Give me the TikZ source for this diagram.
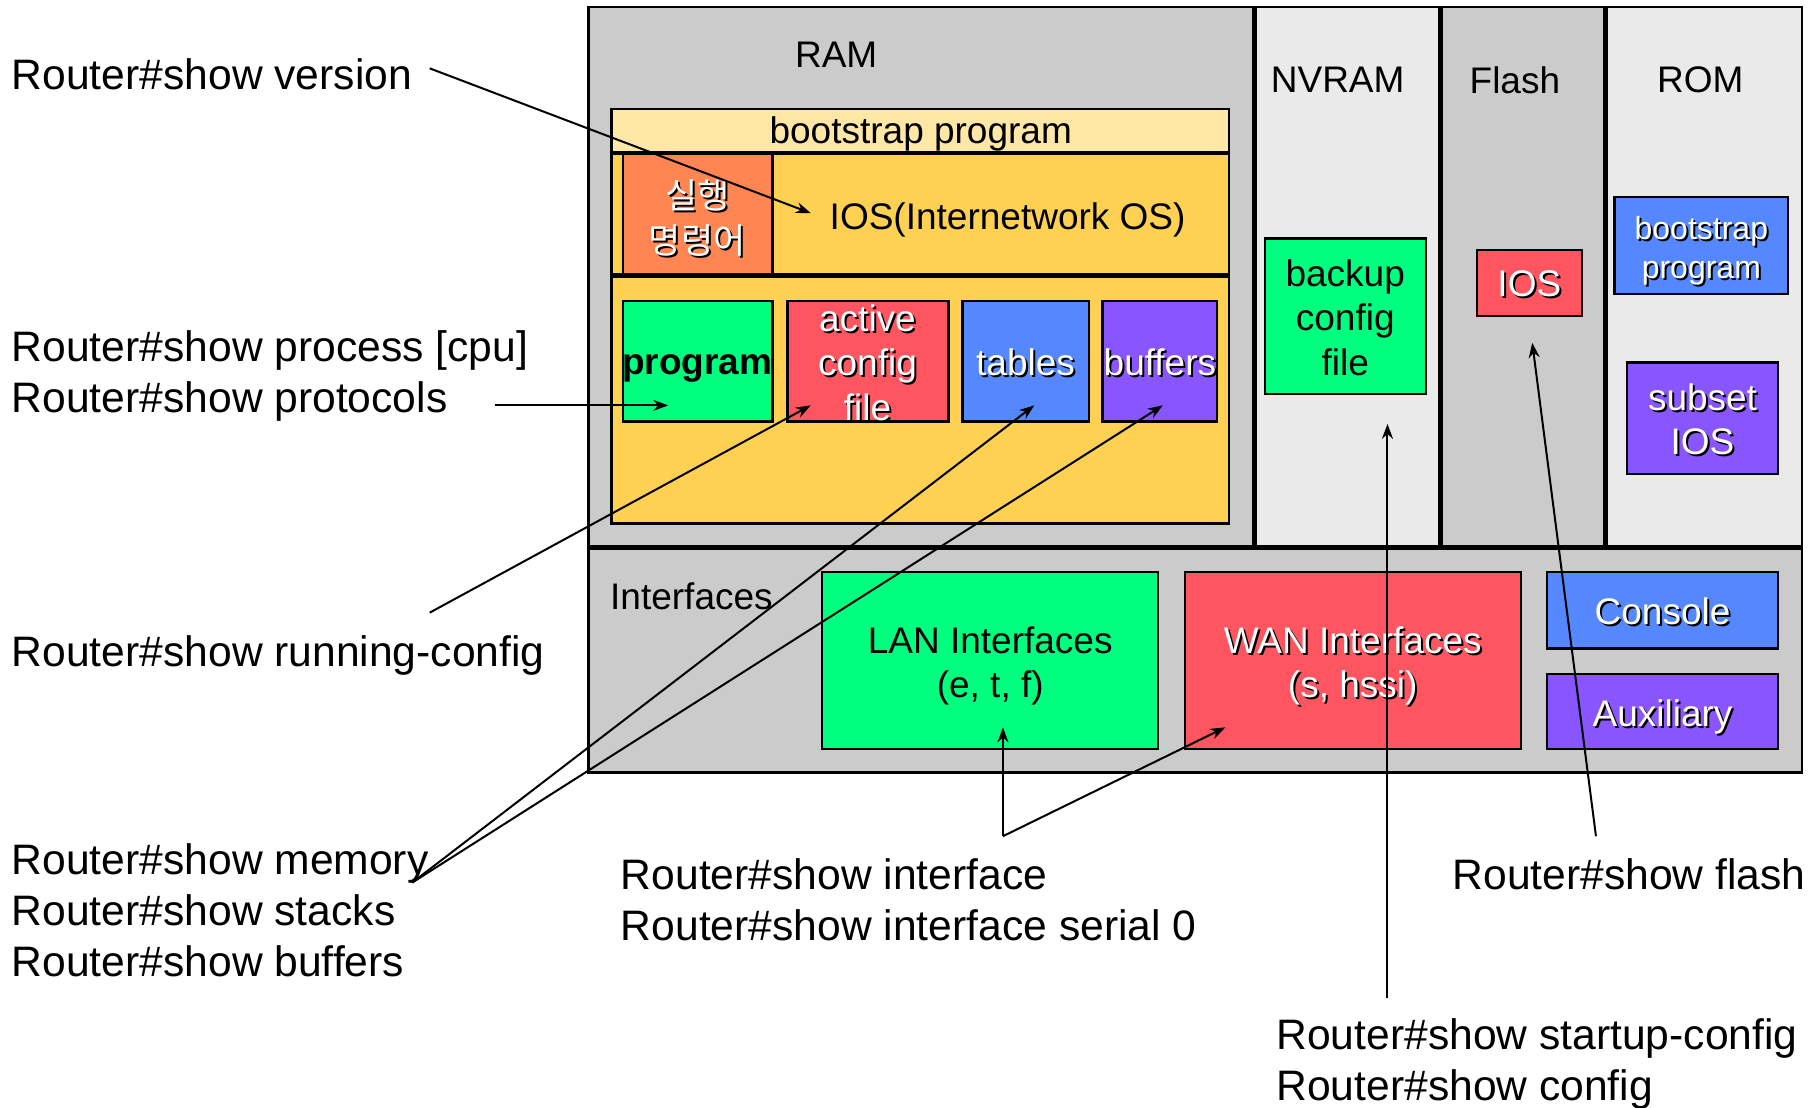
\documentclass[tikz,border=0pt]{standalone}
\usepackage{fontspec}
\setmainfont{Liberation Sans}
\newfontfamily\krfont{Noto Sans CJK KR}
\usetikzlibrary{arrows.meta,fit,calc}
\definecolor{panelA}{HTML}{CBCBCB}
\definecolor{panelB}{HTML}{EAEAEA}
\definecolor{bootY}{HTML}{FFE7A6}
\definecolor{iosY}{HTML}{FFD152}
\definecolor{orng}{HTML}{FF8552}
\definecolor{grn}{HTML}{00FF7F}
\definecolor{rd}{HTML}{FF5560}
\definecolor{bl}{HTML}{5588FF}
\definecolor{pu}{HTML}{8855FF}
\tikzset{
 panel/.style={draw=black, line width=2.5pt, inner sep=0pt},
 box/.style={draw=black, line width=2.2pt, inner sep=0pt},
 lbl/.style={inner sep=0pt, font=\fontsize{42.6pt}{51pt}\selectfont, align=left, anchor=west},
 ttl/.style={inner sep=0pt, font=\fontsize{37pt}{44.5pt}\selectfont},
 btxt/.style={inner sep=0pt, font=\fontsize{37pt}{44.5pt}\selectfont, align=center},
 arr/.style={-{Stealth[length=15pt,width=11pt]}, line width=2pt},
}
\newcommand\shtext[4]{%
  \node[btxt,#1,text=black] (#2s) at ([shift={(2pt,-2pt)}]#3) {#4};
  \node[btxt,#1,text=white] (#2) at (#3) {#4};}
\begin{document}
\begin{tikzpicture}[x=1.158pt,y=-1.158pt]
\useasboundingbox[fill=white] (0,0) rectangle (1568,956);
% panels
\node[panel, fill=panelA, fit={(508,6) (1082,472)}] (ram) {};
\node[panel, fill=panelB, fit={(1084,6) (1243,472)}] (nvram) {};
\node[panel, fill=panelA, fit={(1245,6) (1385,472)}] (flash) {};
\node[panel, fill=panelB, fit={(1387,6) (1556,472)}] (rom) {};
\node[panel, fill=panelA, fit={(508,474) (1556,667)}] (intf) {};
% boxes
\node[box, fill=bootY, fit={(528,94) (1061,131)}] (boot) {};
\node[box, fill=iosY, fit={(528,133) (1061,237)}] (iosbox) {};
\node[box, fill=orng, fit={(538,133) (667,237)}] (exec) {};
\node[box, fill=iosY, fit={(528,239) (1061,452)}] (work) {};
\node[box, fill=grn, fit={(538,260) (667,364)}] (prog) {};
\node[box, fill=rd, fit={(680,260) (819,364)}] (act) {};
\node[box, fill=bl, fit={(831,260) (940,364)}] (tab) {};
\node[box, fill=pu, fit={(952,260) (1051,364)}] (buf) {};
\node[box, fill=grn, fit={(1092,206) (1231,340)}] (bak) {};
\node[box, fill=rd, fit={(1275,216) (1366,273)}] (fios) {};
\node[box, fill=bl, fit={(1394,170) (1544,254)}] (rboot) {};
\node[box, fill=pu, fit={(1405,313) (1535,409)}] (rsub) {};
\node[box, fill=grn, fit={(710,494) (1000,647)}] (lan) {};
\node[box, fill=rd, fit={(1023,494) (1313,647)}] (wan) {};
\node[box, fill=bl, fit={(1336,494) (1535,560)}] (con) {};
\node[box, fill=pu, fit={(1336,582) (1535,647)}] (aux) {};
% titles
\node[ttl] (ramT) at (722,47) {RAM};
\node[ttl] (nvT) at (1155,69) {NVRAM};
\node[ttl] (flT) at (1308,69) {Flash};
\node[ttl] (romT) at (1468,69) {ROM};
\node[ttl] (ifT) at (597,515) {Interfaces};
% box texts
\node[btxt] (bootT) at (795,116) {bootstrap program};
\node[btxt] (iosT) at (870,190) {IOS(Internetwork OS)};
\shtext{font=\krfont\fontsize{35pt}{45pt}\selectfont}{execT}{602,188}{실행\\명령어}
\node[btxt, font=\bfseries\fontsize{37pt}{44.5pt}\selectfont] (progT) at (602,318) {program};
\shtext{}{actT}{749,313}{active\\config\\file}
\shtext{}{tabT}{885.5,313}{tables}
\shtext{}{bufT}{1001.5,313}{buffers}
\node[btxt] (bakT) at (1161.5,274) {backup\\config\\file};
\shtext{}{fiosT}{1320.5,245}{IOS}
\shtext{font=\fontsize{32pt}{39pt}\selectfont}{rbootT}{1469,216.5}{bootstrap\\program}
\shtext{}{rsubT}{1470,362}{subset\\IOS}
\node[btxt] (lanT) at (855,575) {LAN Interfaces\\(e, t, f)};
\shtext{}{wanT}{1168,575}{WAN Interfaces\\(s, hssi)}
\shtext{}{conT}{1435.5,528}{Console}
\shtext{}{auxT}{1435.5,619}{Auxiliary}
% left labels
\node[lbl] (ver) at (10,64) {Router\#show version};
\node[lbl] (proc) at (10,325) {Router\#show process [cpu]\\Router\#show protocols};
\node[lbl] (run) at (10,566) {Router\#show running-config};
\node[lbl] (mem) at (10,786) {Router\#show memory\\Router\#show stacks\\Router\#show buffers};
\node[lbl] (intl) at (536,777) {Router\#show interface\\Router\#show interface serial 0};
\node[lbl] (fll) at (1254,755) {Router\#show flash};
\node[lbl] (stl) at (1102,919) {Router\#show startup-config\\Router\#show config};
% connector points
\coordinate (vS) at (371,59);
\coordinate (vE) at (700,184);
\coordinate (pS) at (427,350);
\coordinate (pE) at (577,350);
\coordinate (rS) at (371,529);
\coordinate (rE) at (700,350);
\coordinate (mS) at (356,762);
\coordinate (tE) at (893,350);
\coordinate (bE) at (1004,350);
\coordinate (iS) at (866,722);
\coordinate (lE) at (866,628);
\coordinate (wE) at (1058,628);
\coordinate (sS) at (1198,862);
\coordinate (sE) at (1198,366);
\coordinate (fS) at (1378,722);
\coordinate (fE) at (1323,296);
% connectors
\draw[arr] (vS) -- (vE);
\draw[arr] (pS) -- (pE);
\draw[arr] (rS) -- (rE);
\draw[arr] (mS) -- (tE);
\draw[arr] (mS) -- (bE);
\draw[arr] (iS) -- (lE);
\draw[arr] (iS) -- (wE);
\draw[arr] (sS) -- (sE);
\draw[arr] (fS) -- (fE);
\end{tikzpicture}
\end{document}
